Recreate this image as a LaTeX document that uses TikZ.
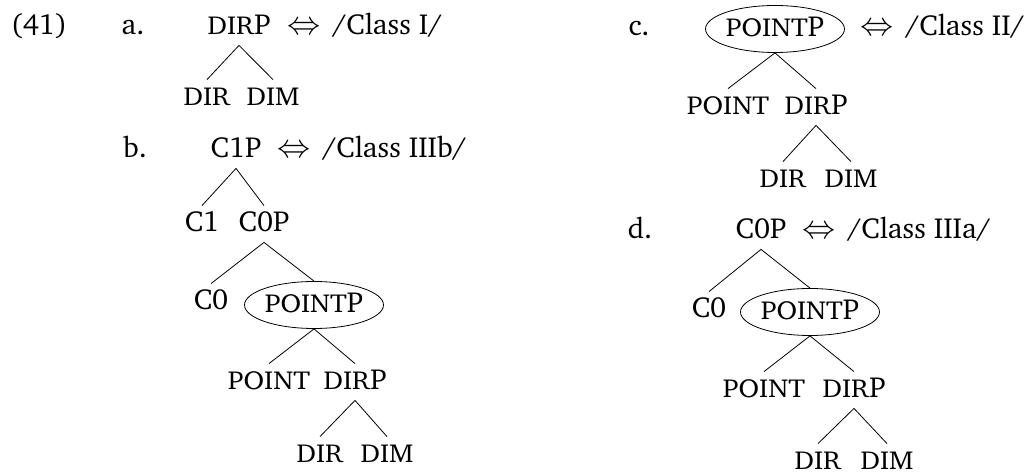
\documentclass[tikz,border=0pt]{standalone}
\usepackage[T1]{fontenc}
\usepackage{charter}
\usepackage{tikz}
\usetikzlibrary{shapes.geometric,positioning}
% small caps for the feature labels
\newcommand{\fsc}[1]{\scalebox{1.08}[1]{\fontsize{13}{15}\selectfont #1}}
\newcommand{\spellout}[1]{\scalebox{1.15}{$\Leftrightarrow$}\hspace{6pt}#1}

\begin{document}
\begin{tikzpicture}[x=0.5pt, y=-0.5pt,
    every node/.style={font=\fontsize{14.5}{17}\selectfont},
    lbl/.style={anchor=base, inner sep=0pt},
    word/.style={anchor=base, text height=8pt, text depth=0pt, inner xsep=1pt, inner ysep=5pt},
    spell/.style={anchor=base west, inner sep=0pt},
    bubble/.style={draw, ellipse, minimum width=68pt, minimum height=23.5pt, inner sep=0pt, text height=8pt, text depth=0pt},
    branch/.style={thin}]
    \useasboundingbox (0,0) rectangle (1034,475);

    % Example number
    \node[lbl] (ex) at (39,35) {(41)};

    % Tree a
    \node[lbl] (a-lab) at (133,35) {a.};
    \node[word] (a-root) at (239,35) {\fsc{DIR}P};
    \node[spell] (a-spell) at (287,35) {\spellout{/Class I/}};
    \node[word] (a-dir) at (207,106) {\fsc{DIR}};
    \node[word] (a-dim) at (273,106) {\fsc{DIM}};
    \draw[branch] (a-dir.north) -- (a-root.south) -- (a-dim.north);

    % Tree b
    \node[lbl] (b-lab) at (135,158) {b.};
    \node[word] (b-root) at (236,158) {C1P};
    \node[spell] (b-spell) at (277,158) {\spellout{/Class IIIb/}};
    \node[word] (b-c1) at (202,232) {C1};
    \node[word] (b-c0p) at (264,232) {C0P};
    \node[word] (b-c0) at (211,310) {C0};
    \node[bubble] (b-pp) at (314,305) {\fsc{POINT}P};
    \node[word] (b-point) at (269,390) {\fsc{POINT}};
    \node[word] (b-dirp) at (355,390) {\fsc{DIR}P};
    \node[word] (b-dir) at (320,463) {\fsc{DIR}};
    \node[word] (b-dim) at (387,463) {\fsc{DIM}};
    \draw[branch] (b-c1.north) -- (b-root.south) -- (b-c0p.north);
    \draw[branch] (b-c0.north) -- (b-c0p.south) -- (b-pp.north);
    \draw[branch] (b-point.north) -- (b-pp.south) -- (b-dirp.north);
    \draw[branch] (b-dir.north) -- (b-dirp.south) -- (b-dim.north);

    % Tree c
    \node[lbl] (c-lab) at (639,36) {c.};
    \node[bubble] (c-root) at (775,29) {\fsc{POINT}P};
    \node[spell] (c-spell) at (860,36) {\spellout{/Class II/}};
    \node[word] (c-point) at (728,115) {\fsc{POINT}};
    \node[word] (c-dirp) at (816,115) {\fsc{DIR}P};
    \node[word] (c-dir) at (783,188) {\fsc{DIR}};
    \node[word] (c-dim) at (851,188) {\fsc{DIM}};
    \draw[branch] (c-point.north) -- (c-root.south) -- (c-dirp.north);
    \draw[branch] (c-dir.north) -- (c-dirp.south) -- (c-dim.north);

    % Tree d
    \node[lbl] (d-lab) at (640,239) {d.};
    \node[word] (d-root) at (761,239) {C0P};
    \node[spell] (d-spell) at (802,239) {\spellout{/Class IIIa/}};
    \node[word] (d-c0) at (709,318) {C0};
    \node[bubble] (d-pp) at (810,312) {\fsc{POINT}P};
    \node[word] (d-point) at (764,398) {\fsc{POINT}};
    \node[word] (d-dirp) at (854,398) {\fsc{DIR}P};
    \node[word] (d-dir) at (818,470) {\fsc{DIR}};
    \node[word] (d-dim) at (887,470) {\fsc{DIM}};
    \draw[branch] (d-c0.north) -- (d-root.south) -- (d-pp.north);
    \draw[branch] (d-point.north) -- (d-pp.south) -- (d-dirp.north);
    \draw[branch] (d-dir.north) -- (d-dirp.south) -- (d-dim.north);
\end{tikzpicture}
\end{document}
